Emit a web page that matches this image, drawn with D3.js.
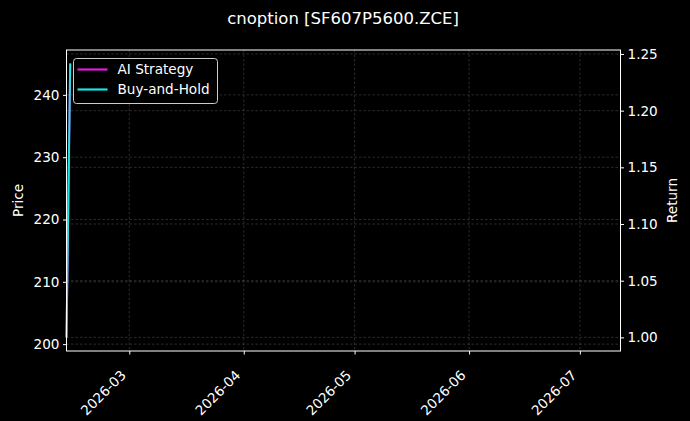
<!DOCTYPE html>
<html>
<head>
<meta charset="utf-8">
<script src="https://cdn.jsdelivr.net/npm/d3@7"></script>
<style>
  body { margin: 0; background: #000; }
  text { font-family: "DejaVu Sans", sans-serif; fill: #fff; }
</style>
</head>
<body>
<script>
// data
var dates = ["2026-02-12", "2026-02-13"];
var price = [201.1, 245.0];
var aiReturn = [1.0, 1.2415];
var bhReturn = [1.0, 1.2415];
var xRange = ["2026-02-12", "2026-07-12"];
var priceTicks = [200, 210, 220, 230, 240];
var returnTicks = [1.00, 1.05, 1.10, 1.15, 1.20, 1.25];
var monthTicks = ["2026-03-01", "2026-04-01", "2026-05-01", "2026-06-01", "2026-07-01"];
var seriesNames = ["AI Strategy", "Buy-and-Hold"];
var seriesColors = ["#e01ee0", "#1ee4e4"];

var W = 690, H = 421;
var m = { left: 66.5, right: 69.5, top: 50, bottom: 70 };
var FS = 13.6;

var parse = d3.timeParse("%Y-%m-%d");

var svg = d3.select("body")
        .append("svg")
        .attr("width", W)
        .attr("height", H)
        .style("background", "#000");

var x = d3.scaleTime()
        .domain(xRange.map(parse))
        .range([m.left, W - m.right]);

var yP = d3.scaleLinear()
        .domain([198.9, 247.2])
        .range([H - m.bottom, m.top]);

var yR = d3.scaleLinear()
        .domain([0.988, 1.2535])
        .range([H - m.bottom, m.top]);

var grid = svg.append("g")
        .attr("stroke", "#fff")
        .attr("stroke-opacity", 0.28)
        .attr("stroke-width", 0.6)
        .attr("stroke-dasharray", "2.5,2");

grid.selectAll(".vx")
    .data(monthTicks.map(parse))
    .enter()
    .append("line")
    .attr("x1", d => x(d)).attr("x2", d => x(d))
    .attr("y1", m.top).attr("y2", H - m.bottom);

grid.selectAll(".hp")
    .data(priceTicks)
    .enter()
    .append("line")
    .attr("x1", m.left).attr("x2", W - m.right)
    .attr("y1", d => yP(d)).attr("y2", d => yP(d));

grid.selectAll(".hr")
    .data(returnTicks)
    .enter()
    .append("line")
    .attr("x1", m.left).attr("x2", W - m.right)
    .attr("y1", d => yR(d)).attr("y2", d => yR(d));

var pts = dates.map(parse);

svg.append("path")
    .datum(price)
    .attr("fill", "none")
    .attr("stroke", "#5a7fa0")
    .attr("stroke-opacity", 0.5)
    .attr("stroke-width", 1)
    .attr("d", d3.line().x((d, i) => x(pts[i])).y(d => yP(d)));

[aiReturn, bhReturn].forEach((s, k) => {
    svg.append("path")
        .datum(s)
        .attr("fill", "none")
        .attr("stroke", seriesColors[k])
        .attr("stroke-width", 2)
        .attr("d", d3.line().x((d, i) => x(pts[i])).y(d => yR(d)));
});

// axes
var xAxis = svg.append("g")
        .attr("transform", "translate(0," + (H - m.bottom) + ")")
        .call(d3.axisBottom(x).tickValues(monthTicks.map(parse))
            .tickFormat(d3.timeFormat("%Y-%m")).tickSizeOuter(0).tickSize(3.5));
xAxis.selectAll("text")
    .attr("font-size", FS)
    .attr("text-anchor", "end")
    .attr("y", 0)
    .attr("dy", 0)
    .attr("transform", "translate(-3,25) rotate(-45)");

var lAxis = svg.append("g")
        .attr("transform", "translate(" + m.left + ",0)")
        .call(d3.axisLeft(yP).tickValues(priceTicks).tickSizeOuter(0).tickSize(3.5).tickPadding(3.5));
lAxis.selectAll("text").attr("font-size", FS);

var rAxis = svg.append("g")
        .attr("transform", "translate(" + (W - m.right) + ",0)")
        .call(d3.axisRight(yR).tickValues(returnTicks).tickFormat(d3.format(".2f"))
            .tickSizeOuter(0).tickSize(3.5).tickPadding(3.5));
rAxis.selectAll("text").attr("font-size", FS);

svg.selectAll(".domain").remove();
svg.selectAll(".tick line").attr("stroke", "#fff");

svg.append("rect")
    .attr("x", m.left)
    .attr("y", m.top)
    .attr("width", W - m.left - m.right)
    .attr("height", H - m.top - m.bottom)
    .attr("fill", "none")
    .attr("stroke", "#fff")
    .attr("stroke-width", 1);

// labels
svg.append("text")
    .attr("x", 343).attr("y", 24)
    .attr("text-anchor", "middle")
    .attr("font-size", 16.5)
    .text("cnoption [SF607P5600.ZCE]");

svg.append("text")
    .attr("transform", "translate(22.5," + ((m.top + H - m.bottom) / 2) + ") rotate(-90)")
    .attr("text-anchor", "middle")
    .attr("font-size", FS)
    .text("Price");

svg.append("text")
    .attr("transform", "translate(677," + ((m.top + H - m.bottom) / 2) + ") rotate(-90)")
    .attr("text-anchor", "middle")
    .attr("font-size", FS)
    .text("Return");

// legend
var lg = svg.append("g").attr("transform", "translate(73.5,58.5)");
lg.append("rect")
    .attr("width", 144)
    .attr("height", 45)
    .attr("rx", 3)
    .attr("fill", "#000")
    .attr("fill-opacity", 0.8)
    .attr("stroke", "#ccc")
    .attr("stroke-width", 1);

lg.selectAll(".item")
    .data(seriesNames)
    .enter()
    .append("g")
    .attr("transform", (d, i) => "translate(0," + (11 + 20 * i) + ")")
    .each(function (d, i) {
        var g = d3.select(this);
        g.append("line")
            .attr("x1", 4).attr("x2", 34)
            .attr("stroke", seriesColors[i])
            .attr("stroke-width", 2.2);
        g.append("text")
            .attr("x", 44).attr("y", 4.8)
            .attr("font-size", FS)
            .text(d);
    });
</script>
</body>
</html>
